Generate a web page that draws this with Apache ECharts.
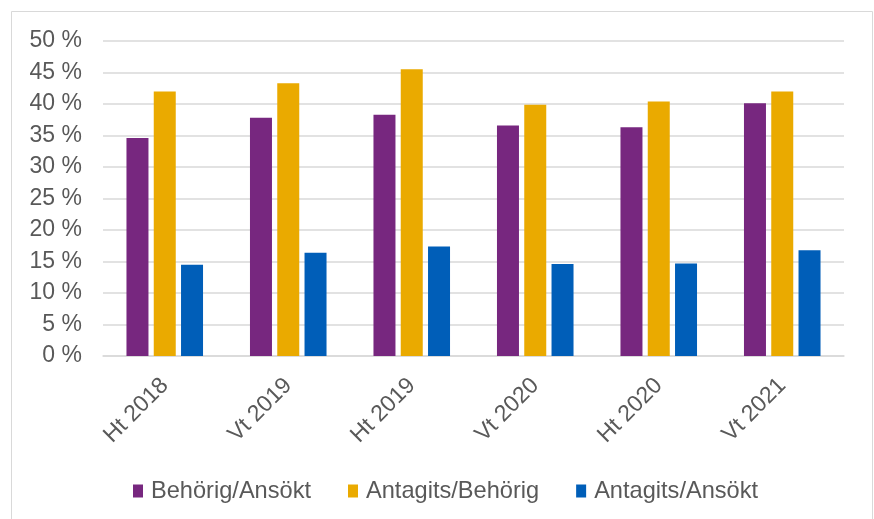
<!DOCTYPE html>
<html>
<head>
<meta charset="utf-8">
<script src="https://cdn.jsdelivr.net/npm/echarts@6/dist/echarts.min.js"></script>
<style>
  html, body { margin: 0; padding: 0; background: #fff; }
  #chart { width: 874px; height: 519px; }
</style>
</head>
<body>
<div id="chart"></div>
<script>
// terminer (kategorier)
var terms = ['Ht 2018', 'Vt 2019', 'Ht 2019', 'Vt 2020', 'Ht 2020', 'Vt 2021'];
// andelar i procent
var behorigAnsokt = [34.6, 37.8, 38.3, 36.6, 36.3, 40.1];
var antagitsBehorig = [42.0, 43.3, 45.5, 39.9, 40.4, 42.0];
var antagitsAnsokt = [14.5, 16.4, 17.4, 14.6, 14.7, 16.8];

var seriesNames = ['Behörig/Ansökt', 'Antagits/Behörig', 'Antagits/Ansökt'];
var colors = ['#77277F', '#EAAA00', '#005EB8'];

var font = 'Liberation Sans, Arial, sans-serif';
var textColor = '#595959';
var lineColor = '#d9d9d9';

var myChart = echarts.init(document.getElementById('chart'));

var option = {
    backgroundColor: '#fff',
    animation: false,
    color: colors,
    graphic: [{
        type: 'rect',
        shape: { x: 11.5, y: 11.5, width: 861, height: 530 },
        style: { fill: 'none', stroke: lineColor, lineWidth: 1 },
        silent: true
    }],
    grid: {
        left: 103,
        right: 30,
        top: 41,
        bottom: 163
    },
    legend: {
        data: seriesNames,
        top: 474,
        left: 128,
        itemWidth: 10,
        itemHeight: 13,
        itemGap: 37,
        icon: 'rect',
        textStyle: { color: textColor, fontFamily: font, fontSize: 23.6, padding: [0, 0, 0, 3] }
    },
    xAxis: {
        type: 'category',
        data: terms,
        axisLine: { lineStyle: { color: lineColor, width: 1.5 } },
        axisTick: { show: false },
        axisLabel: {
            rotate: 45,
            margin: 26,
            color: textColor,
            fontFamily: font,
            fontSize: 23
        }
    },
    yAxis: {
        type: 'value',
        min: 0,
        max: 50,
        interval: 5,
        axisLine: { show: false },
        axisTick: { show: false },
        splitLine: { lineStyle: { color: lineColor, width: 1.5 } },
        axisLabel: {
            formatter: '{value} %',
            margin: 21,
            color: textColor,
            fontFamily: font,
            fontSize: 23
        }
    },
    series: [{
        name: seriesNames[0],
        type: 'bar',
        barWidth: 22,
        barGap: '24%',
        data: behorigAnsokt
    }, {
        name: seriesNames[1],
        type: 'bar',
        barWidth: 22,
        barGap: '24%',
        data: antagitsBehorig
    }, {
        name: seriesNames[2],
        type: 'bar',
        barWidth: 22,
        barGap: '24%',
        data: antagitsAnsokt
    }]
};

myChart.setOption(option);
</script>
</body>
</html>
